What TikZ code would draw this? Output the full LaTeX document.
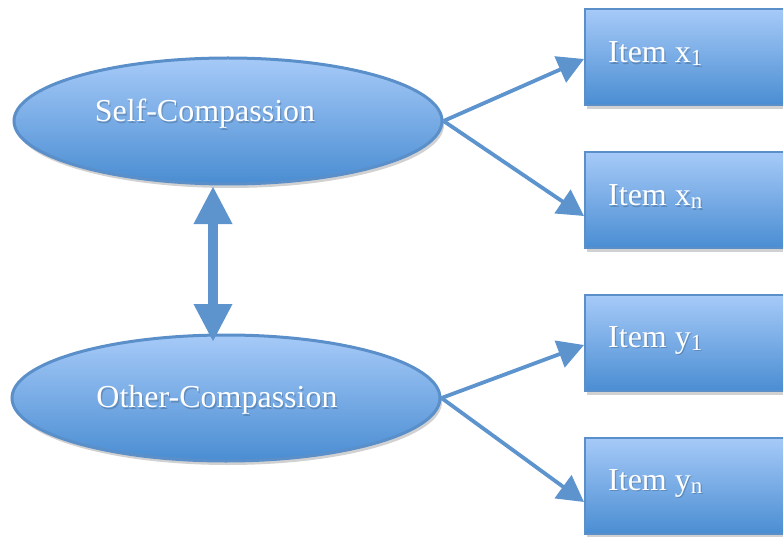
\documentclass[tikz,border=0pt]{standalone}
\usepackage{fontspec}
\setmainfont{Liberation Serif}
\usetikzlibrary{shapes.geometric,arrows.meta,shadows,calc}
\definecolor{topc}{HTML}{A6CAF8}
\definecolor{botc}{HTML}{4A8DD2}
\definecolor{edgec}{HTML}{5A8FC9}
\definecolor{arrc}{HTML}{5D94CE}
\tikzset{
  lat/.style={ellipse, draw=edgec, line width=3pt, top color=topc, bottom color=botc,
    minimum width=428pt, minimum height=126pt, inner sep=0pt,
    drop shadow={shadow xshift=2pt, shadow yshift=-4pt, fill=black!45, opacity=0.4}},
  itembox/.style={rectangle, draw=edgec, line width=2pt, top color=topc, bottom color=botc,
    minimum width=230pt, minimum height=96pt, inner sep=0pt, anchor=west,
    drop shadow={shadow xshift=2pt, shadow yshift=-4pt, fill=black!45, opacity=0.4}},
  lbl/.style={text=white, font=\fontsize{32pt}{34pt}\selectfont, inner sep=0pt},
  conn/.style={draw=arrc, line width=3.8pt, -{Triangle[length=26pt,width=28pt]}},
  dbl/.style={draw=arrc, line width=10pt, {Triangle[length=38pt,width=36pt]}-{Triangle[length=38pt,width=36pt]}}
}
\newcommand{\mysub}[1]{\raisebox{-3pt}{\fontsize{23pt}{24pt}\selectfont #1}}
\newcommand{\shlabel}[4]{%
  \node[lbl, text=black, opacity=0.18, #4] at ($(#2)+(1.2,1.5)$) {#3};
  \node[lbl, #4] (#1) at (#2) {#3};}
\begin{document}
\begin{tikzpicture}[x=1pt,y=-1pt]
\useasboundingbox (0,0) rectangle (783,537);
\node[lat] (self) at (228,121) {};
\node[lat] (other) at (226,398) {};
\shlabel{selft}{205,114}{Self-Compassion}{}
\shlabel{othert}{217,400}{Other-Compassion}{}
\node[itembox] (x1) at (584,57) {};
\node[itembox] (xn) at (584,200) {};
\node[itembox] (y1) at (584,343) {};
\node[itembox] (yn) at (584,486) {};
\shlabel{x1t}{608,54}{Item x\mysub{1}}{anchor=west}
\shlabel{xnt}{608,197}{Item x\mysub{n}}{anchor=west}
\shlabel{y1t}{608,340}{Item y\mysub{1}}{anchor=west}
\shlabel{ynt}{608,483}{Item y\mysub{n}}{anchor=west}
\draw[conn] (self.east) -- ($(x1.west)+(0,2)$);
\draw[conn] (self.east) -- ($(xn.west)+(0,16)$);
\draw[conn] (other.east) -- ($(y1.west)+(0,2)$);
\draw[conn] (other.east) -- ($(yn.west)+(0,16)$);
\draw[dbl] (213,186) -- (213,342);
\end{tikzpicture}
\end{document}
